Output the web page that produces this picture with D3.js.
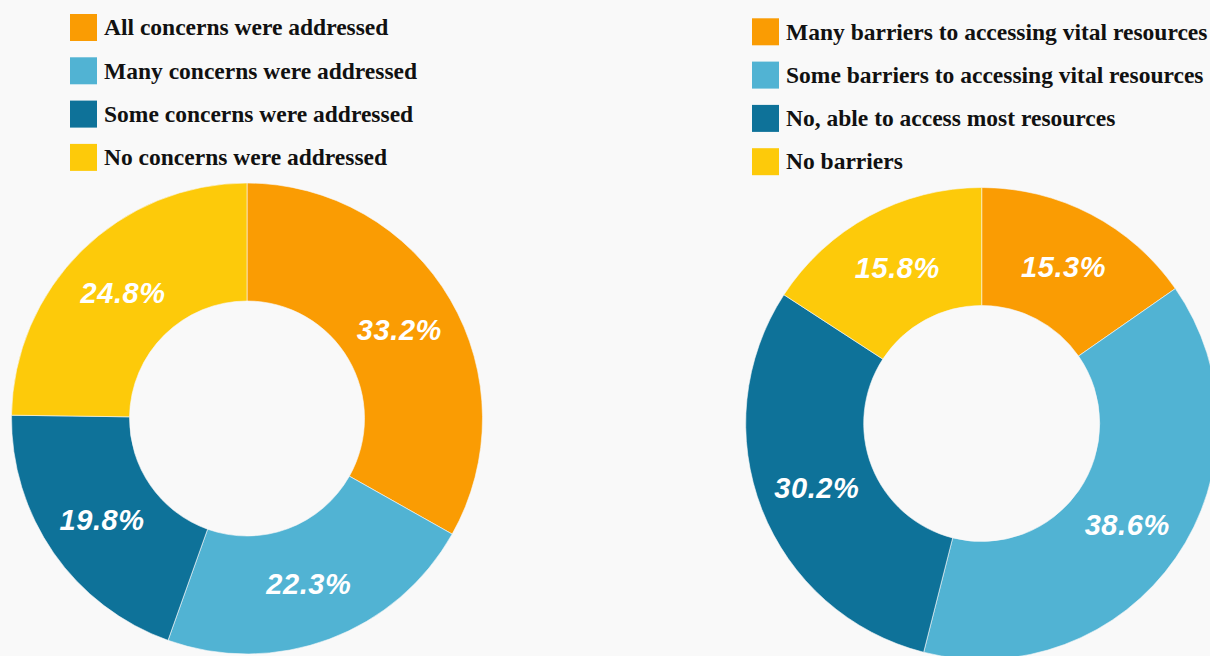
<!DOCTYPE html>
<html>
<head>
<meta charset="utf-8">
<script src="https://cdn.jsdelivr.net/npm/d3@7"></script>
<style>
  html, body { margin: 0; padding: 0; background: #f9f9f9; }
  svg { display: block; }
</style>
</head>
<body>
<svg id="chart" width="1210" height="656"></svg>
<script>
// Survey results: how far concerns were addressed
const concernCategories = [
  "All concerns were addressed",
  "Many concerns were addressed",
  "Some concerns were addressed",
  "No concerns were addressed"
];
const concernValues = [33.2, 22.3, 19.8, 24.8];

// Survey results: barriers to accessing vital resources
const barrierCategories = [
  "Many barriers to accessing vital resources",
  "Some barriers to accessing vital resources",
  "No, able to access most resources",
  "No barriers"
];
const barrierValues = [15.3, 38.6, 30.2, 15.8];

const palette = ["#fa9c03", "#51b3d3", "#0e7299", "#fdca0a"];

const svg = d3.select("#chart");

function drawDonut(cfg) {
  const g = svg.append("g");

  // legend
  const legend = g.append("g")
    .attr("transform", `translate(${cfg.legendX},${cfg.legendY})`);
  const rows = legend.selectAll("g.row")
    .data(cfg.categories)
    .join("g")
    .attr("class", "row")
    .attr("transform", (d, i) => `translate(0,${i * 43.3})`);
  rows.append("rect")
    .attr("width", 27).attr("height", 27)
    .attr("fill", (d, i) => palette[i]);
  rows.append("text")
    .attr("x", 34).attr("y", 13.5)
    .attr("dy", "0.33em")
    .attr("font-family", "'Liberation Serif', 'DejaVu Serif', serif")
    .attr("font-weight", "bold")
    .attr("font-size", 23.5)
    .attr("fill", "#111")
    .text(d => d);

  // donut
  const pie = d3.pie().sort(null).value(d => d)(cfg.values);
  const arc = d3.arc().innerRadius(cfg.inner).outerRadius(cfg.outer);

  const chart = g.append("g")
    .attr("transform", `translate(${cfg.cx},${cfg.cy})`);

  chart.selectAll("path")
    .data(pie)
    .join("path")
    .attr("d", arc)
    .attr("fill", (d, i) => palette[i])
    .attr("stroke", "#f9f9f9")
    .attr("stroke-width", 0.6);

  chart.selectAll("text")
    .data(pie)
    .join("text")
    .attr("transform", d => `translate(${arc.centroid(d)})`)
    .attr("text-anchor", "middle")
    .attr("dy", "0.36em")
    .attr("font-family", "'Liberation Sans', Arial, sans-serif")
    .attr("font-weight", "bold")
    .attr("font-style", "italic")
    .attr("font-size", 29)
    .attr("letter-spacing", 0.6)
    .attr("fill", "#ffffff")
    .text(d => d.data.toFixed(1) + "%");
}

drawDonut({
  categories: concernCategories,
  values: concernValues,
  legendX: 70, legendY: 14,
  cx: 247, cy: 418.5, inner: 117.5, outer: 235.5
});

drawDonut({
  categories: barrierCategories,
  values: barrierValues,
  legendX: 752, legendY: 18.3,
  cx: 981.7, cy: 423.5, inner: 118, outer: 236
});
</script>
</body>
</html>
